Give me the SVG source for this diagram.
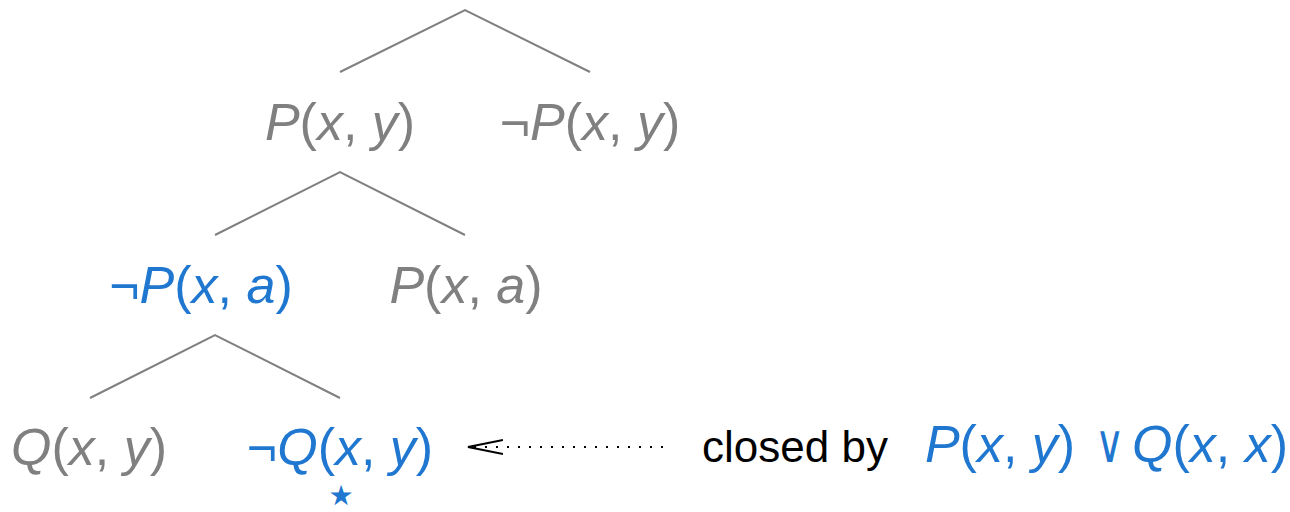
<svg xmlns="http://www.w3.org/2000/svg" width="1290" height="512" viewBox="0 0 1290 512">
<style>
.t{font-family:"Liberation Sans","DejaVu Sans",sans-serif;font-size:52px;text-anchor:middle}
.g{fill:#808080}
.b{fill:#1f77d0}
.k{fill:#000}
.i{font-style:italic}
.e{stroke:#808080;stroke-width:2;fill:none}
</style>
<defs>
<marker id="ah" markerWidth="40" markerHeight="20" refX="35" refY="8" orient="auto" markerUnits="userSpaceOnUse">
<path d="M0,1 L35,8 L0,15" fill="none" stroke="#000" stroke-width="2"/>
</marker>
</defs>
<g id="connectors">
<path class="e" d="M340,72 L465,10 L590,72"/>
<path class="e" d="M215,235 L340,172 L465,235"/>
<path class="e" d="M90,398 L215,335 L340,398"/>
<line x1="663" y1="447" x2="468" y2="447" stroke="#000" stroke-width="2" stroke-dasharray="2,9" marker-end="url(#ah)"/>
</g>
<g id="n1"><text class="t g" x="340" y="140"><tspan class="i">P</tspan>(<tspan class="i">x</tspan>, <tspan class="i">y</tspan>)</text></g>
<g id="n2"><text class="t g" x="590" y="140">¬<tspan class="i">P</tspan>(<tspan class="i">x</tspan>, <tspan class="i">y</tspan>)</text></g>
<g id="n3"><text class="t b" x="201" y="303">¬<tspan class="i">P</tspan>(<tspan class="i">x</tspan>, <tspan class="i">a</tspan>)</text></g>
<g id="n4"><text class="t g" x="466" y="303"><tspan class="i">P</tspan>(<tspan class="i">x</tspan>, <tspan class="i">a</tspan>)</text></g>
<g id="n5"><text class="t g" x="89" y="465"><tspan class="i">Q</tspan>(<tspan class="i">x</tspan>, <tspan class="i">y</tspan>)</text></g>
<g id="n6"><text class="t b" x="340" y="465">¬<tspan class="i">Q</tspan>(<tspan class="i">x</tspan>, <tspan class="i">y</tspan>)</text>
<text class="b" x="341" y="505" style="font-family:'DejaVu Sans',sans-serif;font-size:28px;text-anchor:middle">★</text></g>
<g id="label"><text class="t k" x="795" y="462" style="font-size:44px">closed by</text>
<text class="t b" x="1000" y="462"><tspan class="i">P</tspan>(<tspan class="i">x</tspan>, <tspan class="i">y</tspan>)</text>
<text class="b" transform="translate(1110,462) scale(0.95,1.25)" style="font-family:'Liberation Sans',sans-serif;font-size:42px;text-anchor:middle">∨</text>
<text class="t b" x="1210" y="462"><tspan class="i">Q</tspan>(<tspan class="i">x</tspan>, <tspan class="i">x</tspan>)</text></g>
</svg>
